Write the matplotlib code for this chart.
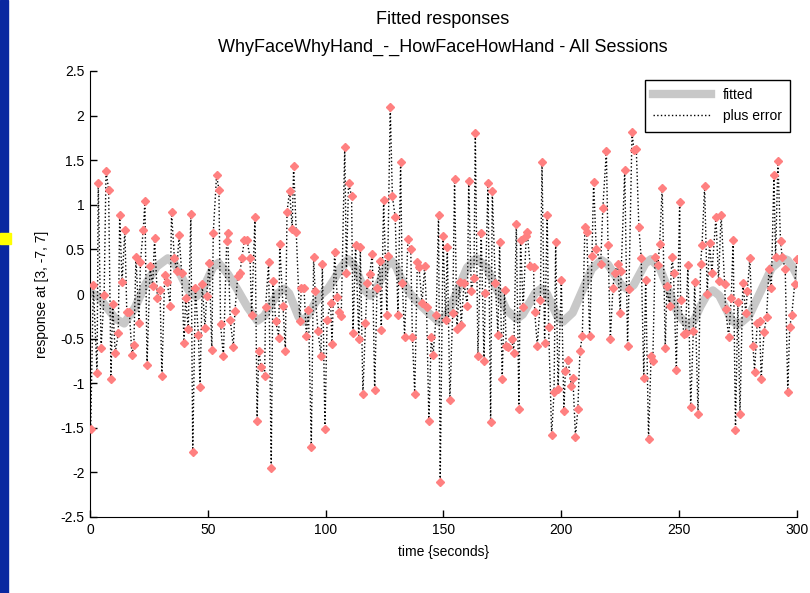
import matplotlib.pyplot as plt
from matplotlib.patches import Rectangle

plt.rcParams['font.family'] = ['Liberation Sans', 'DejaVu Sans']
plt.rcParams['axes.unicode_minus'] = False

# raw response (fitted + error)
time_s = [0.3, 1.4, 3.0, 3.5, 4.7, 6.0, 6.8, 7.9, 8.9, 9.6, 10.7, 12.0, 12.6, 13.6, 14.8, 15.6,
          16.7, 17.8, 18.6, 19.5, 20.8, 21.4, 22.6, 23.3, 24.2, 25.5, 26.6, 27.4, 28.6, 29.7, 30.5,
          31.7, 32.8, 34.0, 34.6, 35.8,
          36.8, 37.8, 38.9, 39.9, 40.6, 41.7, 42.8, 43.6, 44.7, 46.0, 46.7, 47.6, 48.8, 49.5, 50.6,
          51.7, 52.3, 53.7, 54.7, 55.4, 56.6, 58.0, 58.4, 59.5, 60.8, 61.5, 62.7, 63.6, 64.4, 65.5,
          66.7, 67.9, 68.6, 70.0,
          70.9, 71.6, 72.7, 74.1, 74.5, 75.8, 76.9, 77.6, 78.8, 80.1, 80.5, 81.9, 82.9, 83.6, 84.7,
          85.8, 86.4, 87.5, 89.0, 89.7, 90.8, 91.8, 92.7, 93.9, 94.9, 95.5, 96.7, 98.0, 98.6, 99.7,
          100.6, 102.1, 102.7, 103.8, 104.9, 105.5, 106.6, 108.1, 108.8, 109.7, 111.0, 111.6, 112.7,
          114.1, 114.7, 115.8, 116.9, 117.6, 118.6, 119.8, 120.8, 121.8, 122.9, 123.6, 124.6, 126.0,
          126.4, 127.4, 128.3,
          129.5, 130.7, 131.8, 132.5, 133.5, 134.9, 136.1, 136.8, 137.8, 138.9, 139.6, 140.9, 142.0,
          142.8, 143.8, 144.8, 145.6, 146.9, 147.9, 148.6, 149.8, 150.9, 151.6, 152.7, 153.9, 154.7,
          155.7, 156.8, 157.5, 158.7, 160.1, 160.7, 161.8, 162.9, 163.5, 164.6, 166.0, 167.2, 167.7,
          168.9, 170.0, 170.7, 172.0, 173.1, 173.8, 174.9, 175.9, 176.6, 177.3, 179.0, 179.8, 180.9,
          182.0, 182.7, 183.8, 185.1, 185.5,
          186.8, 188.2, 188.7, 189.8, 191.1, 191.8, 192.9, 194.0, 194.6, 195.9, 196.9, 197.6, 198.6,
          200.0, 201.1, 201.7, 202.9, 204.2, 204.9, 206.0, 207.0, 207.9, 208.9, 210.0, 210.8, 212.0,
          213.0, 213.7, 214.8, 216.7, 217.6, 219.1, 219.8, 220.8, 221.9, 222.6, 223.9, 225.0, 225.4,
          226.9, 228.1, 228.7, 230.0, 230.8, 231.8, 232.9, 233.9, 235.0, 235.8, 237.0, 238.1, 238.8,
          239.8, 241.0, 241.7, 242.8,
          244.1, 244.8, 245.9, 247.0, 247.6, 248.8, 250.2, 250.6, 252.0, 252.7, 253.7, 254.9, 256.0,
          256.6, 258.0, 259.1, 259.7, 260.8, 261.9, 262.9, 263.9, 265.6, 266.7, 267.8, 269.3, 269.7,
          271.0, 272.1, 272.9, 273.9, 274.9, 275.8, 277.0, 278.3, 278.9, 280.0, 281.3, 282.0, 283.1,
          284.1, 284.8, 286.0, 287.1, 288.1, 289.1, 290.2, 290.9, 291.9, 293.0, 293.7, 295.0, 296.1,
          296.9, 297.8, 299.0, 300.0]
response = [-1.51, 0.10, -0.89, 1.25, -0.60, -0.01, 1.38, 1.17, -0.95, -0.11, -0.66, -0.44, 0.89, 0.13, 0.72, -0.20,
            -0.20, -0.68, -0.57, 0.41, -0.32, 0.36, 0.72, 1.04, -0.80, 0.31, 0.09, 0.63, -0.04, 0.04, -0.92,
            0.21, 0.13, -0.13, 0.92, 0.40,
            0.26, 0.66, 0.24, -0.55, -0.04, -0.39, 0.90, -1.77, 0.07, -0.46, -1.04, 0.11, -0.38, -0.02, 0.35,
            -0.63, 0.68, 1.33, 1.17, -0.34, -0.70, 0.59, 0.68, -0.29, -0.59, -0.19, 0.20, 0.23, 0.40, 0.60,
            0.60, 0.40, -0.23, 0.86,
            -1.42, -0.64, -0.82, -0.92, -0.15, 0.36, -1.95, 0.15, -0.30, -0.49, 0.56, -0.14, -0.64, 0.92, 1.16,
            0.73, 1.44, 0.70, -0.30, 0.07, 0.07, -0.47, -0.18, -1.71, 0.42, 0.03, -0.41, -0.69, 0.34, -1.51,
            -0.29, -0.10, -0.56, 0.47, -0.03, -0.20, -0.25, 1.65, 0.23, 1.24, 1.10, -0.44, 0.55,
            -0.51, 0.53, -1.12, -0.33, 0.12, 0.22, 0.45, -1.08, 0.07, 0.37, -0.40, 1.05, -0.23,
            0.43, 2.10, 1.10,
            0.86, -0.24, 1.48, 0.12, -0.48, 0.62, 0.50, -0.48, -1.12, 0.36, 0.30, -0.10, 0.31,
            -0.15, -1.42, -0.48, -0.68, -0.24, 0.89, -2.11, 0.65, -0.29, 0.53, -1.19, -0.21, 1.29,
            -0.39, 0.13, -0.35, 0.12, -0.13, 1.27, 0.03, 0.18, 1.80, -0.69, 0.68, -0.75, 0.01,
            1.24, -1.44, 1.16, 0.12, -0.46, 0.58, -0.95, 0.05, -0.58, -0.59, -0.51, -0.66, 0.78,
            -1.29, 0.61, -0.15, 0.65, 0.70,
            0.31, 0.30, -0.20, -0.58, -0.07, 1.48, -0.55, 0.89, -0.37, -1.58, -1.10, 0.58, -1.07,
            0.16, -1.31, -0.86, -0.74, -1.03, -0.94, -1.60, -1.29, -0.64, -0.47, 0.75, 0.70, -0.47,
            0.43, 1.26, 0.51, 0.34, 0.96, 1.60, 0.55, -0.50, 0.07, 0.23, 0.34, -0.21, 0.26,
            1.39, -0.58, 0.06, 1.82, 1.61, 1.63, 0.75, 0.40, -0.94, 0.16, -1.62, -0.69, -0.75,
            0.41, 0.33, 0.56, 1.19,
            -0.60, 0.09, -0.14, 0.42, 0.23, -0.85, 1.03, -0.07, -0.45, -0.44, 0.32, -1.27, -0.41,
            0.13, -1.35, 0.34, 0.55, 1.21, 0.00, 0.57, 0.24, 0.86, 0.15, 0.89, 0.11, -0.17,
            -0.48, -0.05, 0.61, -1.52, -0.09, -1.35, 0.12, -0.21, 0.03, 0.40, -0.58, -0.87, -0.33,
            -0.30, -0.95, -0.43, -0.26, 0.28, 0.07, 1.33, 0.41, 1.49, 0.59, 0.42, 0.28, -1.10,
            -0.37, -0.23, 0.11, 0.39]

# fitted response, read at turning points and between them
fit_t = [0, 3.6, 7.25, 10.9, 14.5, 19.1, 23.75, 28.4, 33, 36, 39, 42, 45, 47.4, 49.75, 52.1,
         54.5, 58.6, 62.75, 66.9, 71, 73.9, 76.75, 79.6, 82.5, 84.5, 86.5, 88.5, 90.5, 93, 95.5,
         98, 101, 103.5, 106.5, 109.5, 111.9, 114.25, 116.6, 119, 121.25, 123.5, 125.75, 128, 130,
         132, 136, 140, 144, 148, 152, 156, 160, 164, 168.25, 172.5, 176.75, 181, 183.6, 186.25,
         188.9, 191.5, 193.8, 196.1, 198.4, 200.7, 204.8, 208.85, 212.9, 217, 219.8, 222.65, 225.5,
         228.3, 230.7, 233.15, 235.6, 238, 241.9, 245.85, 249.8, 253.7, 256.35, 259, 261.65, 264.3,
         267, 269.65, 272.3, 275, 279.75, 284.5, 289.25, 294, 296, 298, 300]
fit_v = [0.02, -0.03, -0.155, -0.28, -0.33, -0.15, 0.12, 0.31, 0.40, 0.337, 0.185, 0.033, -0.03, 0.025, 0.16, 0.295,
         0.35, 0.22, 0.04, -0.15, -0.30, -0.247, -0.12, 0.007, 0.06, 0.006, -0.125, -0.256, -0.31, -0.22, -0.10,
         -0.01, 0.06, 0.16, 0.30, 0.39, 0.33, 0.185, 0.04, -0.02, 0.037, 0.175, 0.313, 0.37, 0.30,
         0.17, 0.0, -0.12, -0.22, -0.31, -0.206, 0.045, 0.296, 0.40, 0.30, 0.06, -0.18, -0.28, -0.23, -0.11,
         0.01, 0.06, 0.006, -0.125, -0.256, -0.31, -0.21, 0.035, 0.28, 0.38, 0.33, 0.215, 0.10,
         0.05, 0.10, 0.22, 0.34, 0.39, 0.282, 0.02, -0.242, -0.35, -0.293, -0.14, -0.017, 0.04,
         -0.017, -0.155, -0.293, -0.35, -0.24, 0.025, 0.29, 0.40, 0.38, 0.31, 0.21]

xticks = [0, 50, 100, 150, 200, 250, 300]
yticks = [-2.5, -2, -1.5, -1, -0.5, 0, 0.5, 1, 1.5, 2, 2.5]
ytick_labels = ['-2.5', '-2', '-1.5', '-1', '-0.5', '0', '0.5', '1', '1.5', '2', '2.5']

fig = plt.figure(figsize=(8.1, 5.93), dpi=100)
# slide edge on the left
fig.patches.append(Rectangle((0, 0), 8 / 810, 1, transform=fig.transFigure, color='#0a28a0', zorder=0))
fig.patches.append(Rectangle((0, 1 - 244 / 593), 11 / 810, 11 / 593, transform=fig.transFigure,
                             color='#ffff00', zorder=1))

ax = fig.add_axes([90 / 810, 76 / 593, 707 / 810, 446 / 593])
ax.plot(fit_t, fit_v, color='#c8c8c8', lw=6, solid_joinstyle='round', label='fitted', zorder=2)
ax.plot(time_s, response, color='black', ls=':', lw=1, label='plus error', zorder=3)
ax.plot(time_s, response, ls='none', marker='D', ms=4.5, mfc='#ff8080', mec='#ff8080', zorder=4)

ax.set_xlim(0, 300)
ax.set_ylim(-2.5, 2.5)
ax.set_xticks(xticks)
ax.set_yticks(yticks)
ax.set_yticklabels(ytick_labels)
ax.tick_params(direction='in', length=5, labelsize=10, width=1, pad=4)
for s in ['top', 'right']:
    ax.spines[s].set_visible(False)

ax.set_xlabel('time {seconds}', fontsize=10, labelpad=6)
ax.set_ylabel('response at [3, -7, 7]', fontsize=10, labelpad=8)

leg = ax.legend(loc='upper right', bbox_to_anchor=(0.99, 0.98), borderaxespad=0, fontsize=10,
                handlelength=4.2, fancybox=False, edgecolor='black', framealpha=1,
                borderpad=0.6, labelspacing=0.5)
leg.get_frame().set_linewidth(1)

fig.text(443 / 810, 1 - 19 / 593, 'Fitted responses', ha='center', va='center', fontsize=13)
fig.text(443 / 810, 1 - 47 / 593, 'WhyFaceWhyHand_-_HowFaceHowHand - All Sessions',
         ha='center', va='center', fontsize=13)

fig.savefig('out.png', dpi=100)
